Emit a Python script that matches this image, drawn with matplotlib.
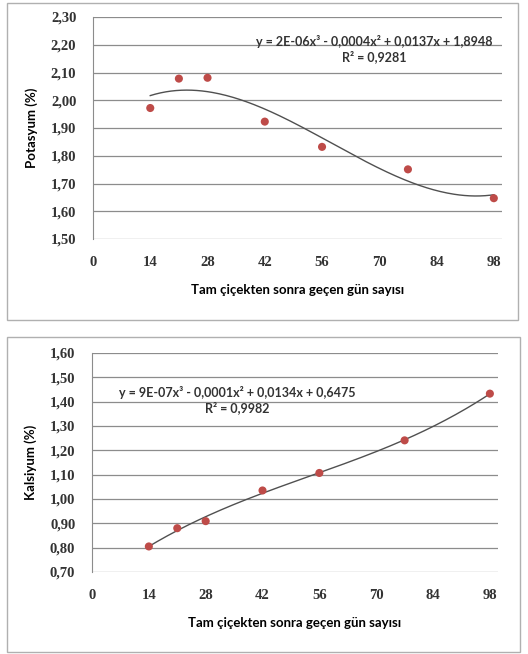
import numpy as np
import matplotlib.pyplot as plt
from matplotlib.patches import Rectangle

# days after full bloom
days = [14, 21, 28, 42, 56, 77, 98]
potasyum = [1.972, 2.078, 2.081, 1.923, 1.832, 1.751, 1.647]
kalsiyum = [0.805, 0.880, 0.909, 1.035, 1.107, 1.241, 1.433]

x_ticks = [0, 14, 28, 42, 56, 70, 84, 98]
k_ticks = [1.50, 1.60, 1.70, 1.80, 1.90, 2.00, 2.10, 2.20, 2.30]
ca_ticks = [0.70, 0.80, 0.90, 1.00, 1.10, 1.20, 1.30, 1.40, 1.50, 1.60]

eq_k = "y = 2E-06x³ - 0,0004x² + 0,0137x + 1,8948\nR² = 0,9281"
eq_ca = "y = 9E-07x³ - 0,0001x² + 0,0134x + 0,6475\nR² = 0,9982"
xlabel = "Tam çiçekten sonra geçen gün sayısı"

W, H = 528, 654
fig = plt.figure(figsize=(W / 100, H / 100), dpi=100)

def frame(x0, y0, x1, y1):
    fig.patches.append(Rectangle((x0 / W, 1 - y1 / H), (x1 - x0) / W, (y1 - y0) / H,
                                 transform=fig.transFigure, fill=False,
                                 edgecolor='#b0b0b0', lw=1.0))

frame(7, 3, 518, 320)
frame(7, 337, 520, 652)

def panel(rect, y, yticks, ylabel, eq, eq_pos):
    ax = fig.add_axes(rect)
    x = np.array(days, dtype=float)
    c = np.polyfit(x, y, 3)
    xs = np.linspace(14, 98, 200)
    ax.plot(xs, np.polyval(c, xs), color='#505050', lw=1.0, zorder=3)
    ax.scatter(x, y, s=34, color='#be4b48', zorder=4, edgecolors='none')
    ax.set_xlim(0, 100)
    ax.set_ylim(yticks[0], yticks[-1])
    ax.set_xticks(x_ticks)
    ax.set_yticks(yticks)
    ax.set_yticklabels([("%.2f" % v).replace('.', ',') for v in yticks])
    ax.yaxis.grid(True, color='#8c8c8c', lw=0.9)
    ax.set_axisbelow(True)
    for s in ['top', 'right', 'bottom']:
        ax.spines[s].set_visible(False)
    ax.spines['left'].set_color('#8c8c8c')
    ax.tick_params(axis='x', length=0, pad=12)
    ax.tick_params(axis='y', length=0, pad=12)
    for lab in ax.get_xticklabels() + ax.get_yticklabels():
        lab.set_family('Liberation Serif')
        lab.set_fontweight('bold')
        lab.set_fontsize(10.5)
        lab.set_color('#333333')
    ax.set_ylabel(ylabel, family='Lato', fontweight='bold', fontsize=9.5, labelpad=9)
    ax.set_xlabel(xlabel, family='Lato', fontweight='bold', fontsize=9.5, labelpad=11)
    fig.text(eq_pos[0] / W, 1 - eq_pos[1] / H, eq, ha='center', va='center',
             family='Lato', fontweight='bold', fontsize=9, color='#333333',
             linespacing=1.25)
    return ax

panel([93 / W, 1 - 239 / H, 409 / W, 222 / H], potasyum, k_ticks,
      "Potasyum (%)", eq_k, (374, 49))
panel([92 / W, 1 - 572 / H, 406 / W, 219 / H], kalsiyum, ca_ticks,
      "Kalsiyum (%)", eq_ca, (237, 400))

fig.savefig('out.png', dpi=100)
